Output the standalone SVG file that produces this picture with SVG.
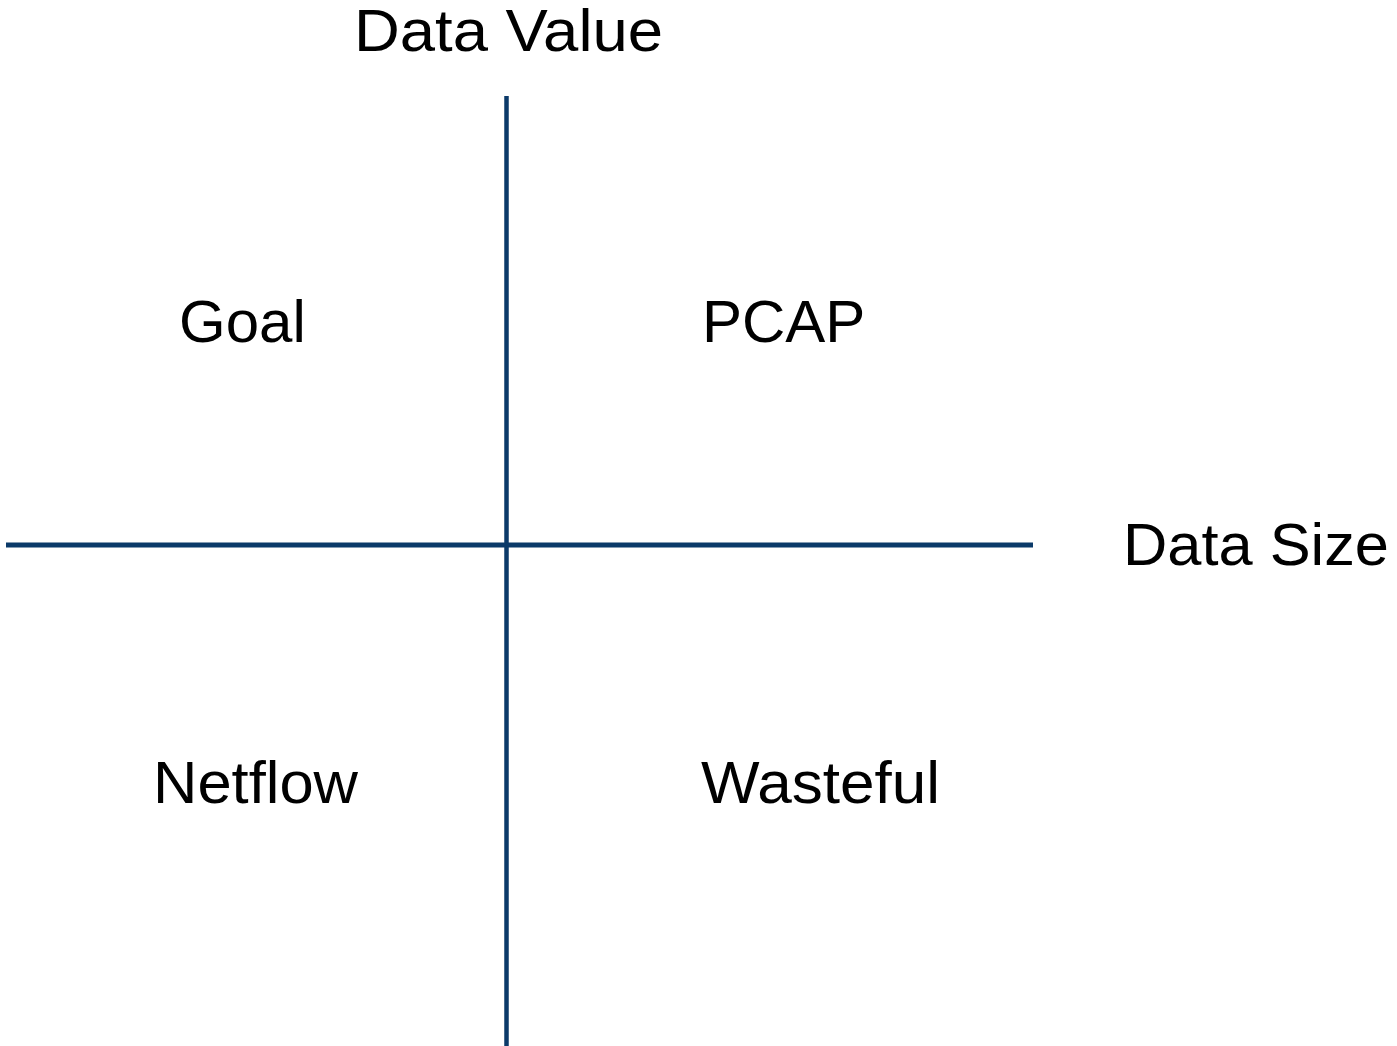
<svg xmlns="http://www.w3.org/2000/svg" width="1397" height="1046" viewBox="0 0 1397 1046">
<style>
.lbl{font-family:"Liberation Sans",Arial,sans-serif;font-size:60px;fill:#000}
.axis{stroke:#0b3a69;fill:none}
</style>
<rect width="1397" height="1046" fill="#fff"/>
<g id="connectors">
<line class="axis" x1="506.5" y1="96" x2="506.5" y2="1046" stroke-width="4.5"/>
<line class="axis" x1="6" y1="545" x2="1033" y2="545" stroke-width="5"/>
</g>
<g id="label-data-value"><text class="lbl" x="354" y="51" textLength="309" lengthAdjust="spacingAndGlyphs">Data Value</text></g>
<g id="label-data-size"><text class="lbl" x="1123" y="565" textLength="266" lengthAdjust="spacingAndGlyphs">Data Size</text></g>
<g id="node-goal"><text class="lbl" x="179" y="342">Goal</text></g>
<g id="node-pcap"><text class="lbl" x="702" y="342">PCAP</text></g>
<g id="node-netflow"><text class="lbl" x="153" y="803" textLength="205" lengthAdjust="spacingAndGlyphs">Netflow</text></g>
<g id="node-wasteful"><text class="lbl" x="701" y="803" textLength="239" lengthAdjust="spacingAndGlyphs">Wasteful</text></g>
</svg>
